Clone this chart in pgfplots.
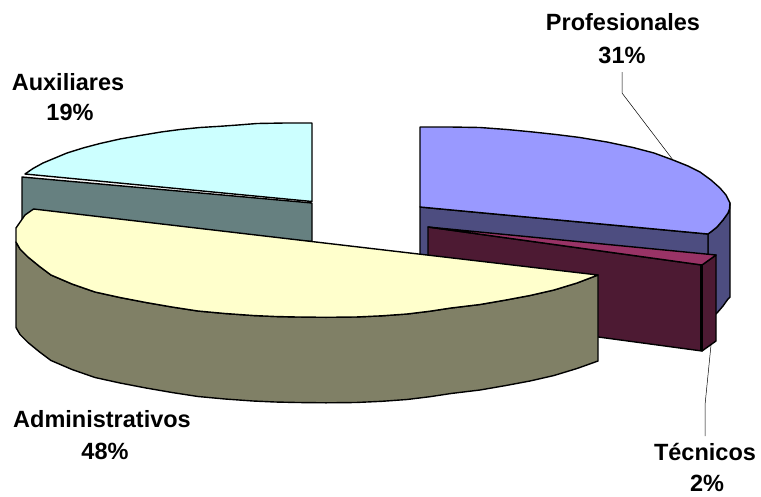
\documentclass[border=0pt]{standalone}
\usepackage{pgfplots}
\pgfplotsset{compat=1.18}
\usepackage{fontspec}
\setmainfont{Liberation Sans}
\definecolor{bluetop}{HTML}{9999FF}
\definecolor{blueside}{HTML}{4D4D80}
\definecolor{magtop}{HTML}{993366}
\definecolor{magside}{HTML}{4D1A33}
\definecolor{yeltop}{HTML}{FFFFCC}
\definecolor{yelside}{HTML}{808066}
\definecolor{cyantop}{HTML}{CCFFFF}
\definecolor{cyanside}{HTML}{668080}
\begin{document}
\begin{tikzpicture}[x=1pt,y=1pt]
\path[use as bounding box] (0,0) rectangle (761,496);
\begin{axis}[at={(0,0)},anchor=south west,scale only axis,width=761pt,height=496pt,
  xmin=0,xmax=761,ymin=0,ymax=496,y dir=reverse,hide axis,clip=false,
  every axis plot/.append style={draw=black,line width=1.4pt,mark=none,line join=round}]
% Auxiliares
\addplot[fill=cyanside] coordinates {(22,177)(312,203)(312,241.5)(22,222)} --cycle;
\addplot[fill=cyantop] coordinates {(312,123)(285,123)(257,123.5)(238,125)(220,126.3)(200,127.5)(180,129.5)(161,132)(143,135)(120,139)(100,143.5)(83,148)(67,153)(55,158)(43,163)(33,168.5)(25,174)(312,201.5)} --cycle;
% Profesionales
\addplot[fill=blueside] coordinates {(708,234)(712,231)(717,227)(723,220)(728,213)(729.5,209)(730,203)(730,297)(728,299)(723,306)(717,313)(712,317)(708,320)} --cycle;
\addplot[fill=blueside] coordinates {(420,207)(708,234)(708,300)(420,270)} --cycle;
\addplot[fill=bluetop] coordinates {(420,127)(450,127)(480,127.5)(507,129.5)(533,132)(556,134.5)(580,137.5)(607,142)(633,147.5)(654,153)(673,160)(688,166)(700,172)(711,180)(720,188)(726,195)(730,203)(729.5,209)(728,213)(723,220)(717,227)(712,231)(708,234)(420,207)} --cycle;
% Tecnicos
\addplot[fill=magside] coordinates {(428,227)(702,265)(702,351)(428,314)} --cycle;
\addplot[fill=magside] coordinates {(702,265)(716,255)(716,341)(702,351)} --cycle;
\addplot[fill=magtop] coordinates {(428,227)(716,255)(702,265)} --cycle;
\addplot[line width=3pt] coordinates {(701.5,265)(701.5,351)};
% Administrativos
\addplot[fill=yelside] coordinates {(16,242)(20,249)(28,257)(39,266)(51,275)(72,284)(95,292)(120,297.5)(146,302.5)(172,307)(198,311)(225,313.5)(253,315.5)(275,316.5)(297,317)(326,317.3)(356,317)(382,315.8)(407,314)(430,311.2)(451,308)(480,304.5)(506,300)(530,295.5)(554,290)(577,283)(598,275)
(598,361)(577,368.5)(554,375.5)(530,381)(506,385.5)(480,390)(451,393.5)(430,396.7)(407,399.5)(382,401.3)(356,402.5)(326,402.8)(297,402.5)(275,402)(253,401)(225,399)(198,396.5)(172,392.5)(146,388)(120,383)(95,377.5)(72,369.5)(51,360.5)(39,351.5)(28,342.5)(20,334.5)(16,327.5)} --cycle;
\addplot[fill=yeltop] coordinates {(33.6,209)(598,275)(577,283)(554,290)(530,295.5)(506,300)(480,304.5)(451,308)(430,311.2)(407,314)(382,315.8)(356,317)(326,317.3)(297,317)(275,316.5)(253,315.5)(225,313.5)(198,311)(172,307)(146,302.5)(120,297.5)(95,292)(72,284)(51,275)(39,266)(28,257)(20,249)(16,242)(16,228)(25,215)} --cycle;
% leaders
\addplot[line width=0.5pt] coordinates {(622,72)(622,93)(673,160)};
\addplot[line width=0.5pt] coordinates {(711,345)(705,405)(705,436)};
\end{axis}
\begin{scope}[every node/.style={font=\fontsize{23.5}{28}\selectfont\bfseries,align=center,inner sep=0pt,text=black}]
\node at (623,496-22) {Profesionales};
\node at (622,496-55) {31\%};
\node at (68,496-82) {Auxiliares};
\node at (70,496-112) {19\%};
\node at (102,496-419) {Administrativos};
\node at (105,496-451) {48\%};
\node at (705,496-452) {Técnicos};
\node at (707,496-483) {2\%};
\end{scope}
\end{tikzpicture}
\end{document}
